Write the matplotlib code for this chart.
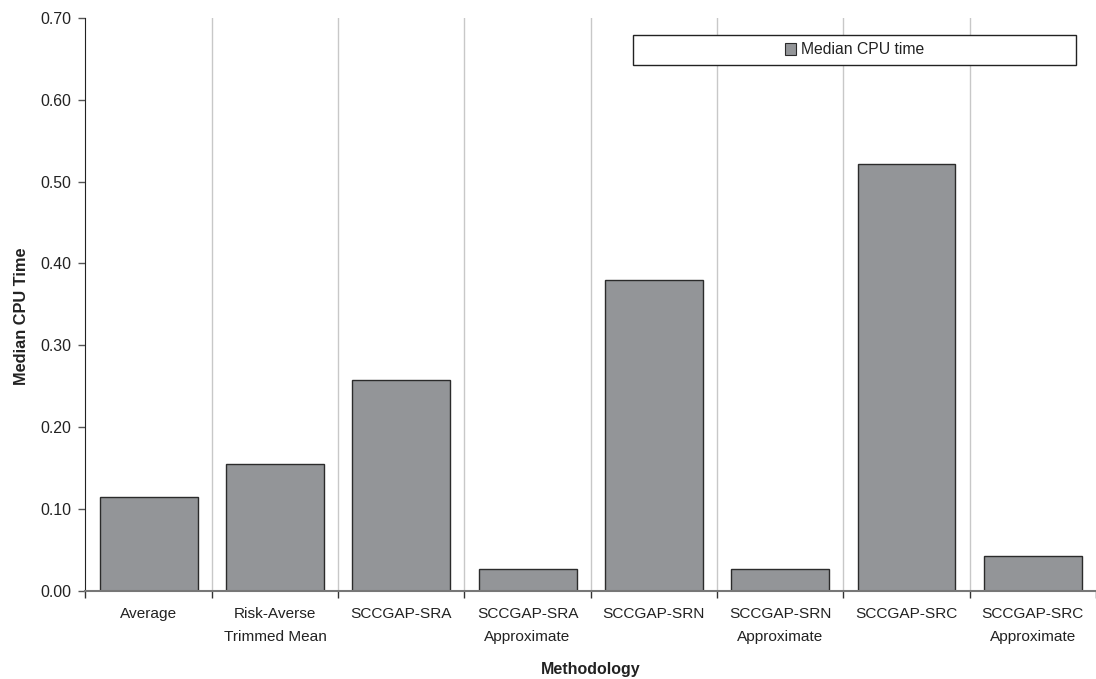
import matplotlib

matplotlib.use("Agg")
import matplotlib.pyplot as plt
from matplotlib.patches import Patch, Rectangle
from matplotlib.ticker import FixedLocator, NullFormatter

METHODS = [
    "Average",
    "Risk-Averse\nTrimmed Mean",
    "SCCGAP-SRA",
    "SCCGAP-SRA\nApproximate",
    "SCCGAP-SRN",
    "SCCGAP-SRN\nApproximate",
    "SCCGAP-SRC",
    "SCCGAP-SRC\nApproximate",
]
MEDIAN_CPU = [0.115, 0.155, 0.258, 0.026, 0.380, 0.027, 0.522, 0.043]
Y_TICKS = [0.0, 0.1, 0.2, 0.3, 0.4, 0.5, 0.6, 0.7]

BAR_COLOR = "#939598"
EDGE_COLOR = "#2b2b2b"
GRID_COLOR = "#c8c8c8"
TEXT_COLOR = "#222222"

plt.rcParams["font.family"] = ["Liberation Sans", "DejaVu Sans"]
plt.rcParams["font.size"] = 11

W, H = 1096, 679
fig = plt.figure(figsize=(W / 100, H / 100), dpi=100)
ax = fig.add_axes([0.078, 0.13, 0.922, 0.8435])

n = len(METHODS)
xs = list(range(n))
ax.bar(xs, MEDIAN_CPU, width=0.775, color=BAR_COLOR, edgecolor=EDGE_COLOR,
       linewidth=1.0, zorder=3)

ax.set_xlim(-0.5, n - 0.5)
ax.set_ylim(0, 0.70)
ax.set_yticks(Y_TICKS)
ax.set_yticklabels([f"{v:.2f}" for v in Y_TICKS], fontsize=11.4, color=TEXT_COLOR)

# category labels centred on bars, ticks/grid on category boundaries
ax.set_xticks(xs)
ax.set_xticklabels(METHODS, fontsize=11.1, color=TEXT_COLOR, linespacing=1.75)
ax.tick_params(axis="x", which="major", length=0, pad=12)
ax.xaxis.set_minor_locator(FixedLocator([i - 0.5 for i in range(n + 1)]))
ax.xaxis.set_minor_formatter(NullFormatter())
ax.tick_params(axis="x", which="minor", length=5, color="#333333", width=1.0)
ax.tick_params(axis="y", length=5, color="#555555", width=1.0, direction="out",
               pad=5)

for b in range(1, n):
    ax.axvline(b - 0.5, color=GRID_COLOR, linewidth=1.0, zorder=1)

for side in ("top", "right"):
    ax.spines[side].set_visible(False)
ax.spines["left"].set_color(TEXT_COLOR)
ax.spines["bottom"].set_color("#777777")
ax.spines["bottom"].set_linewidth(1.5)
ax.spines["bottom"].set_zorder(4)

ax.set_xlabel("Methodology", fontsize=11.5, fontweight="bold", labelpad=13,
              color=TEXT_COLOR)
ax.set_ylabel("Median CPU Time", fontsize=11.8, fontweight="bold",
              color=TEXT_COLOR)
ax.yaxis.set_label_coords(-0.0555, 0.48)

# framed legend box spanning a fixed strip, entry centred inside it
box = (633 / W, 1 - 65 / H, 443 / W, 30 / H)
fig.patches.append(Rectangle(box[:2], box[2], box[3], transform=fig.transFigure,
                             facecolor="white", edgecolor=TEXT_COLOR,
                             linewidth=1.0, zorder=5))
handle = Patch(facecolor=BAR_COLOR, edgecolor=EDGE_COLOR, linewidth=0.8)
leg = fig.legend([handle], ["Median CPU time"], loc="center",
                 bbox_to_anchor=(box[0] + box[2] / 2, box[1] + box[3] / 2),
                 frameon=False, fontsize=11.3, handlelength=0.75,
                 handleheight=0.75, handletextpad=0.3)
leg.set_zorder(6)
for t in leg.get_texts():
    t.set_color(TEXT_COLOR)

fig.savefig("out.png", dpi=100)
